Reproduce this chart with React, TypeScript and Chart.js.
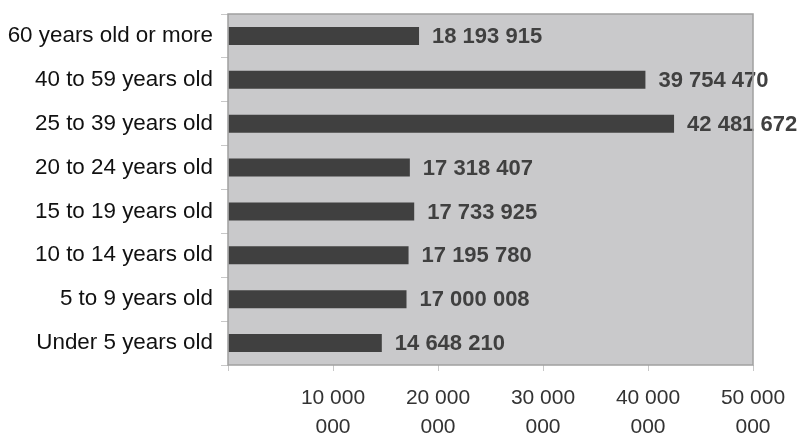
import React, { useEffect, useRef } from "react";
import { Chart, registerables } from "chart.js";

Chart.register(...registerables);

const categories = [
  "60 years old or more",
  "40 to 59 years old",
  "25 to 39 years old",
  "20 to 24 years old",
  "15 to 19 years old",
  "10 to 14 years old",
  "5 to 9 years old",
  "Under 5 years old",
];
const population = [18193915, 39754470, 42481672, 17318407, 17733925, 17195780, 17000008, 14648210];
const xTickLabels: Record<number, string[]> = {
  0: [""],
  10000000: ["10 000", "000"],
  20000000: ["20 000", "000"],
  30000000: ["30 000", "000"],
  40000000: ["40 000", "000"],
  50000000: ["50 000", "000"],
};

const FONT = "'Liberation Sans', Arial, Helvetica, sans-serif";

const fmt = (v: number) => String(v).replace(/\B(?=(\d{3})+(?!\d))/g, " ");

const plotBg = {
  id: "plotBg",
  beforeDraw(chart: any) {
    const { ctx, chartArea: a } = chart;
    ctx.save();
    ctx.fillStyle = "#c9c9cb";
    ctx.fillRect(a.left, a.top, a.right - a.left, a.bottom - a.top);
    ctx.restore();
  },
  afterDraw(chart: any) {
    const { ctx, chartArea: a } = chart;
    ctx.save();
    ctx.strokeStyle = "#a0a0a0";
    ctx.lineWidth = 1.5;
    ctx.strokeRect(a.left, a.top, a.right - a.left, a.bottom - a.top);
    ctx.restore();
  },
};

const valueLabels = {
  id: "valueLabels",
  afterDatasetsDraw(chart: any) {
    const { ctx } = chart;
    const meta = chart.getDatasetMeta(0);
    ctx.save();
    ctx.font = `bold 22px ${FONT}`;
    ctx.fillStyle = "#404040";
    ctx.textAlign = "left";
    ctx.textBaseline = "middle";
    meta.data.forEach((el: any, i: number) => {
      ctx.fillText(fmt(population[i]), el.x + 13, el.y + 1);
    });
    ctx.restore();
  },
};

export default function App() {
  const ref = useRef<HTMLCanvasElement>(null);
  useEffect(() => {
    if (!ref.current) return;
    const chart = new Chart(ref.current, {
      type: "bar",
      data: {
        labels: categories,
        datasets: [
          {
            data: population,
            backgroundColor: "#404040",
            borderWidth: 0,
            barPercentage: 0.41,
            categoryPercentage: 1,
          },
        ],
      },
      options: {
        indexAxis: "y",
        responsive: false,
        animation: false,
        layout: { padding: { top: 14, right: 49, left: 0, bottom: 0 } },
        plugins: { legend: { display: false }, tooltip: { enabled: false } },
        scales: {
          x: {
            min: 0,
            max: 50000000,
            afterFit: (s: any) => {
              s.height = 69;
            },
            grid: { drawOnChartArea: false, drawTicks: true, tickLength: 6, color: "#c8c8c8" },
            border: { display: false },
            ticks: {
              stepSize: 10000000,
              padding: 13,
              color: "#333333",
              font: { family: FONT, size: 21, lineHeight: 1.38 },
              maxRotation: 0,
              autoSkip: false,
              callback: (v: any) => xTickLabels[Number(v)] ?? "",
            },
          },
          y: {
            afterFit: (s: any) => {
              s.width = 228;
              s.paddingTop = 0;
              s.paddingBottom = 0;
            },
            grid: { drawOnChartArea: false, drawTicks: true, tickLength: 7, color: "#c8c8c8" },
            border: { display: false },
            ticks: {
              padding: 8,
              color: "#111111",
              font: { family: FONT, size: 22.4 },
              autoSkip: false,
            },
          },
        },
      },
      plugins: [plotBg, valueLabels],
    });
    return () => chart.destroy();
  }, []);
  return (
    <div style={{ position: "absolute", left: 0, top: 0, width: 802, height: 434 }}>
      <canvas ref={ref} width={802} height={434} />
    </div>
  );
}
